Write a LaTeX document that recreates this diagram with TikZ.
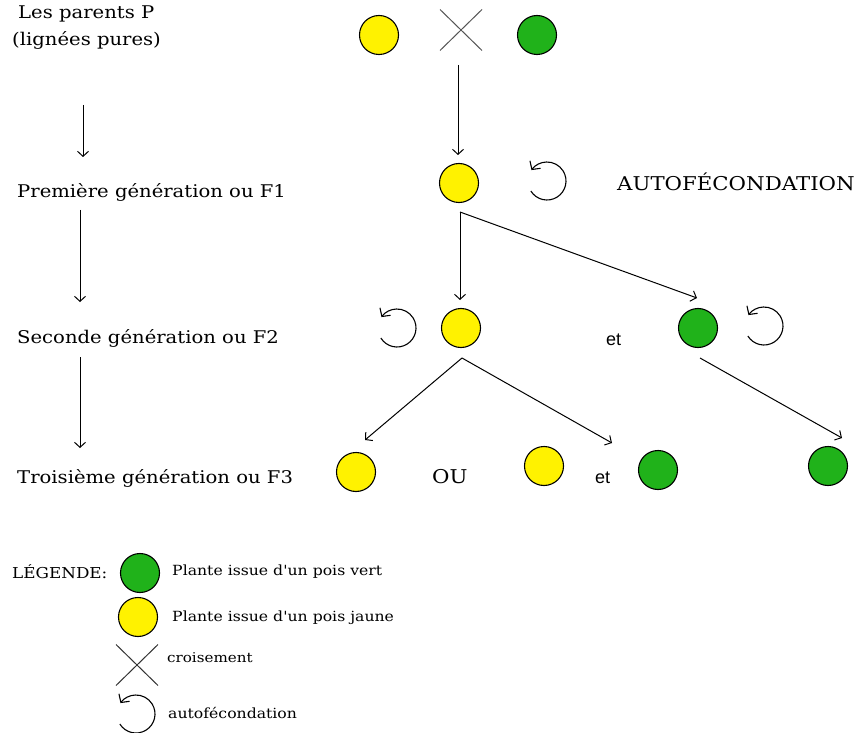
\documentclass[tikz,border=0pt]{standalone}
\usepackage{fontspec}
\setmainfont{DejaVu Serif}[FakeStretch=1.12,Ligatures=TeXOff]
\newfontfamily\sansf{Liberation Sans}
\usetikzlibrary{arrows.meta,shapes.misc}
\definecolor{pjaune}{RGB}{255,242,0}
\definecolor{pvert}{RGB}{32,178,26}
\definecolor{xgray}{RGB}{85,85,85}
\begin{document}
\begin{tikzpicture}[x=1pt,y=1pt,
  pois/.style={circle,draw=black,line width=1.1pt,minimum size=39pt,inner sep=0pt},
  jaune/.style={pois,fill=pjaune},
  vert/.style={pois,fill=pvert},
  croix/.style={cross out,draw=xgray,line width=1pt,minimum width=41pt,minimum height=40pt,inner sep=0pt},
  fl/.style={-{Straight Barb[length=5pt,width=11pt]},line width=1pt},
  boucle/.style={-{Straight Barb[length=6pt,width=13pt]},line width=1.1pt},
  lbl/.style={anchor=west,inner sep=0pt,font=\fontsize{17.5}{27}\selectfont},
  leg/.style={anchor=west,inner sep=0pt,font=\fontsize{14}{17}\selectfont},
  etl/.style={anchor=west,inner sep=0pt,font=\sansf\fontsize{18}{20}\selectfont}]
\useasboundingbox (0,0) rectangle (860,-733);
% left column
\node[lbl,align=left] (pp) at (12,-28) {\hspace*{6pt}Les parents P\\(lignées pures)};
\node[lbl] (g1) at (17,-192) {Première génération ou F1};
\node[lbl] (g2) at (17,-338) {Seconde génération ou F2};
\node[lbl] (g3) at (17,-478) {Troisième génération ou F3};
\coordinate (a1s) at (83,-105); \coordinate (a1e) at (83,-157);
\coordinate (a2s) at (80,-210); \coordinate (a2e) at (80,-302);
\coordinate (a3s) at (80,-357); \coordinate (a3e) at (80,-448);
\draw[fl] (a1s) -- (a1e);
\draw[fl] (a2s) -- (a2e);
\draw[fl] (a3s) -- (a3e);
% parents
\node[jaune] (p1) at (379,-35) {};
\node[croix] (px) at (461,-30) {};
\node[vert] (p2) at (537,-35) {};
% F1
\node[jaune] (f1) at (459,-183) {};
\coordinate (af1) at (547,-181);
\node[anchor=west,inner sep=0pt,font=\fontsize{19}{22}\selectfont] (auto) at (617,-182) {AUTOFÉCONDATION};
% F2
\node[jaune] (f2y) at (461,-328) {};
\coordinate (af2) at (397,-328);
\node[etl] (et1) at (606,-340) {et};
\node[vert] (f2g) at (698,-328) {};
\coordinate (af3) at (764,-326);
% F3
\node[jaune] (f3a) at (356,-472) {};
\node[anchor=west,inner sep=0pt,font=\fontsize{19}{22}\selectfont] (ou) at (432,-477) {OU};
\node[jaune] (f3b) at (544,-466) {};
\node[etl] (et2) at (595,-478) {et};
\node[vert] (f3c) at (658,-470) {};
\node[vert] (f3d) at (828,-466) {};
% connectors
\coordinate (xs) at (458,-65); \coordinate (xe) at (458,-155);
\draw[fl] (xs) -- (xe);
\coordinate (f1b) at (460,-212);
\coordinate (f2ye) at (460,-300); \coordinate (f2ge) at (697,-298);
\draw[fl] (f1b) -- (f2ye);
\draw[fl] (f1b) -- (f2ge);
\coordinate (f2yb) at (462,-358);
\coordinate (f3ae) at (365,-440); \coordinate (f3be) at (612,-443);
\draw[fl] (f2yb) -- (f3ae);
\draw[fl] (f2yb) -- (f3be);
\coordinate (f2gb) at (700,-358); \coordinate (f3de) at (842,-438);
\draw[fl] (f2gb) -- (f3de);
% self-fertilisation symbols
\foreach \c in {af1,af2,af3}
  \draw[boucle] (\c) ++(212:19) arc[start angle=212,end angle=505,radius=19];
% legend
\node[leg,font=\fontsize{15}{17}\selectfont] (legt) at (12,-572) {LÉGENDE:};
\node[vert] (lv) at (140,-573) {};
\node[leg] (lvt) at (172,-572) {Plante issue d'un pois vert};
\node[jaune] (lj) at (138,-617) {};
\node[leg] (ljt) at (172,-618) {Plante issue d'un pois jaune};
\node[croix,draw=black!80] (lx) at (137,-665) {};
\node[leg,font=\fontsize{13.5}{17}\selectfont] (lxt) at (167,-658) {croisement};
\coordinate (laf) at (136,-714);
\draw[boucle] (laf) ++(212:19) arc[start angle=212,end angle=505,radius=19];
\node[leg] (laft) at (168,-713) {autofécondation};
\end{tikzpicture}
\end{document}
